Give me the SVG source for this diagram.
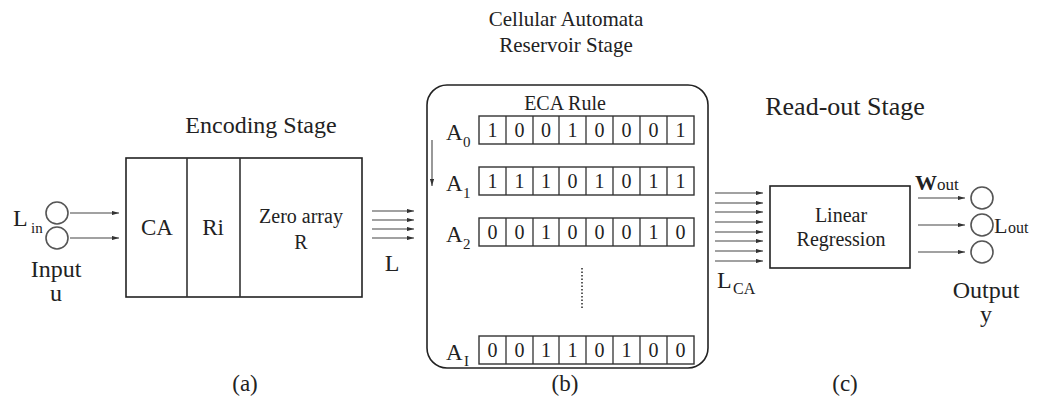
<svg xmlns="http://www.w3.org/2000/svg" width="1040" height="400" viewBox="0 0 1040 400">
<style>
text{font-family:"Liberation Serif","Times New Roman",serif;fill:#222}
.t{font-size:20px;text-anchor:middle}
.st{font-size:24px;text-anchor:middle}
.b{font-size:23px;text-anchor:middle}
.m{font-size:20px;text-anchor:middle}
.d{font-size:20px;text-anchor:middle}
.a{font-size:23px}
.s{font-size:15px}
.ln{stroke:#333;stroke-width:1.6;fill:none}
.bx{stroke:#222;stroke-width:1.6;fill:#fff}
.cell{stroke:#333;stroke-width:1.4;fill:#fff}
.ar{stroke:#444;stroke-width:1.1;fill:none;marker-end:url(#ah)}
.cir{stroke:#555;stroke-width:1.6;fill:#fff}
</style>
<defs>
<marker id="ah" viewBox="0 0 10 6" refX="10" refY="3" markerWidth="7" markerHeight="4.2" orient="auto" markerUnits="userSpaceOnUse"><path d="M0,0 L10,3 L0,6 z" fill="#333"/></marker>
</defs>
<rect width="1040" height="400" fill="#fff"/>

<text class="t" x="566" y="26" style="font-size:21px">Cellular Automata</text>
<text class="t" x="566" y="52" style="font-size:21px">Reservoir Stage</text>
<text class="st" x="261" y="133">Encoding Stage</text>
<text class="st" x="845" y="115" style="font-size:26px">Read-out Stage</text>

<g id="input">
<circle class="cir" cx="57" cy="213" r="11"/>
<circle class="cir" cx="57" cy="238" r="11"/>
<text x="13" y="226" style="font-size:24px">L</text>
<text x="31" y="233" class="s">in</text>
<text class="b" x="56" y="277" style="font-size:24px">Input</text>
<text class="b" x="56" y="301" style="font-size:24px">u</text>
</g>

<g id="encoding">
<rect class="bx" x="126" y="158" width="236" height="139"/>
<line class="ln" x1="187" y1="158" x2="187" y2="297"/>
<line class="ln" x1="240" y1="158" x2="240" y2="297"/>
<text class="b" x="157" y="235">CA</text>
<text class="b" x="213" y="235">Ri</text>
<text class="m" x="301" y="223">Zero array</text>
<text class="m" x="301" y="249">R</text>
</g>

<g id="reservoir">
<rect class="bx" x="427" y="85" width="281" height="283" rx="20"/>
<text class="t" x="565" y="110">ECA Rule</text>
<g id="row0">
<text x="446" y="140" class="a">A</text><text x="463" y="147" class="s">0</text>
<g transform="translate(479,116)">
<rect class="cell" x="0" y="0" width="215" height="28"/>
<path class="ln" style="stroke-width:1.3" d="M27,0V28M54,0V28M80,0V28M107,0V28M134,0V28M161,0V28M188,0V28"/>
<text class="d" y="21"><tspan x="13.5">1</tspan><tspan x="40.5">0</tspan><tspan x="67">0</tspan><tspan x="93.5">1</tspan><tspan x="120.5">0</tspan><tspan x="147.5">0</tspan><tspan x="174.5">0</tspan><tspan x="201.5">1</tspan></text>
</g>
</g>
<g id="row1">
<text x="446" y="191" class="a">A</text><text x="463" y="198" class="s">1</text>
<g transform="translate(479,167)">
<rect class="cell" x="0" y="0" width="215" height="28"/>
<path class="ln" style="stroke-width:1.3" d="M27,0V28M54,0V28M80,0V28M107,0V28M134,0V28M161,0V28M188,0V28"/>
<text class="d" y="21"><tspan x="13.5">1</tspan><tspan x="40.5">1</tspan><tspan x="67">1</tspan><tspan x="93.5">0</tspan><tspan x="120.5">1</tspan><tspan x="147.5">0</tspan><tspan x="174.5">1</tspan><tspan x="201.5">1</tspan></text>
</g>
</g>
<g id="row2">
<text x="446" y="242" class="a">A</text><text x="463" y="249" class="s">2</text>
<g transform="translate(479,218)">
<rect class="cell" x="0" y="0" width="215" height="28"/>
<path class="ln" style="stroke-width:1.3" d="M27,0V28M54,0V28M80,0V28M107,0V28M134,0V28M161,0V28M188,0V28"/>
<text class="d" y="21"><tspan x="13.5">0</tspan><tspan x="40.5">0</tspan><tspan x="67">1</tspan><tspan x="93.5">0</tspan><tspan x="120.5">0</tspan><tspan x="147.5">0</tspan><tspan x="174.5">1</tspan><tspan x="201.5">0</tspan></text>
</g>
</g>
<line x1="582" y1="268" x2="582" y2="310" stroke="#333" stroke-width="1.6" stroke-dasharray="1.5,2"/>
<g id="rowI">
<text x="446" y="360" class="a">A</text><text x="464" y="366" class="s">I</text>
<g transform="translate(479,336)">
<rect class="cell" x="0" y="0" width="215" height="28"/>
<path class="ln" style="stroke-width:1.3" d="M27,0V28M54,0V28M80,0V28M107,0V28M134,0V28M161,0V28M188,0V28"/>
<text class="d" y="21"><tspan x="13.5">0</tspan><tspan x="40.5">0</tspan><tspan x="67">1</tspan><tspan x="93.5">1</tspan><tspan x="120.5">0</tspan><tspan x="147.5">1</tspan><tspan x="174.5">0</tspan><tspan x="201.5">0</tspan></text>
</g>
</g>
</g>

<g id="readout">
<rect class="bx" x="770" y="186" width="140" height="82"/>
<text class="m" x="841" y="222">Linear</text>
<text class="m" x="841" y="246">Regression</text>
</g>

<g id="output">
<circle class="cir" cx="982" cy="198" r="11"/>
<circle class="cir" cx="982" cy="225" r="11"/>
<circle class="cir" cx="982" cy="252" r="11"/>
<text x="915" y="190" style="font-size:22px;font-weight:bold">W</text>
<text x="937" y="190" style="font-size:17px">out</text>
<text x="994" y="233" style="font-size:22px">L</text>
<text x="1008" y="233" style="font-size:16px">out</text>
<text class="b" x="986" y="298" style="font-size:24px">Output</text>
<text class="b" x="986" y="322" style="font-size:24px">y</text>
</g>

<g id="connectors">
<line class="ar" x1="70" y1="213" x2="119" y2="213"/>
<line class="ar" x1="70" y1="238" x2="119" y2="238"/>
<line class="ar" x1="372" y1="211" x2="414" y2="211"/>
<line class="ar" x1="372" y1="220" x2="414" y2="220"/>
<line class="ar" x1="372" y1="229" x2="414" y2="229"/>
<line class="ar" x1="372" y1="238" x2="414" y2="238"/>
<line class="ar" x1="432" y1="140" x2="432" y2="186"/>
<line class="ar" x1="715" y1="193" x2="763" y2="193"/>
<line class="ar" x1="715" y1="203" x2="763" y2="203"/>
<line class="ar" x1="715" y1="212" x2="763" y2="212"/>
<line class="ar" x1="715" y1="222" x2="763" y2="222"/>
<line class="ar" x1="715" y1="232" x2="763" y2="232"/>
<line class="ar" x1="715" y1="241" x2="763" y2="241"/>
<line class="ar" x1="715" y1="251" x2="763" y2="251"/>
<line class="ar" x1="715" y1="261" x2="763" y2="261"/>
<line class="ar" x1="918" y1="198" x2="965" y2="198"/>
<line class="ar" x1="918" y1="225" x2="965" y2="225"/>
<line class="ar" x1="918" y1="252" x2="965" y2="252"/>
</g>
<text x="392" y="271" style="font-size:24px;text-anchor:middle">L</text>
<text x="717" y="288" style="font-size:24px">L</text>
<text x="733" y="294" style="font-size:16px">CA</text>

<text class="b" x="245" y="391">(a)</text>
<text class="b" x="565" y="391">(b)</text>
<text class="b" x="845" y="391">(c)</text>
</svg>
